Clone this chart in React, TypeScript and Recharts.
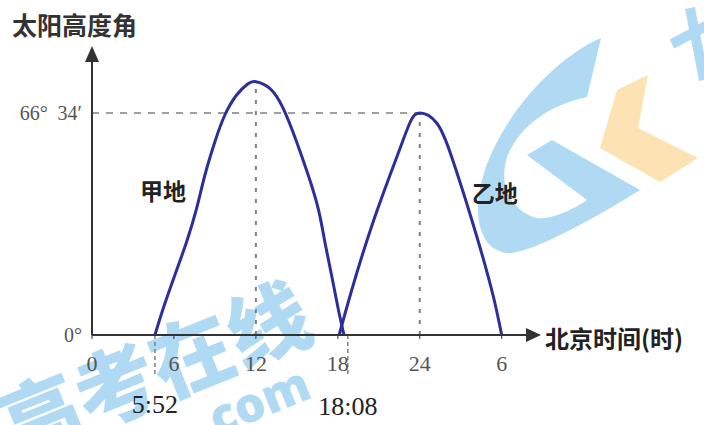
import { LineChart, Line, XAxis, YAxis, ReferenceLine, ReferenceDot } from "recharts";

// x: hour positions as drawn on the (schematic) time axis, y: solar altitude in degrees
const hourTicks = [0, 6, 12, 18, 24, 30];
const hourLabels = ["0", "6", "12", "18", "24", "6"];
const angleTicks = [0, 66.57];
const angleLabels = ["0°", "66°\u00a0\u00a034′"];

const jiaCurve = [
  { h: 4.61, deg: 0 },
  { h: 5.22, deg: 8 },
  { h: 6.07, deg: 18 },
  { h: 6.93, deg: 28 },
  { h: 7.66, deg: 38 },
  { h: 8.27, deg: 48 },
  { h: 9.0, deg: 58 },
  { h: 9.73, deg: 66 },
  { h: 10.59, deg: 72 },
  { h: 11.4, deg: 75.3 },
  { h: 12, deg: 76 },
  { h: 13.02, deg: 74 },
  { h: 14.0, deg: 68 },
  { h: 14.98, deg: 58 },
  { h: 15.83, deg: 48 },
  { h: 16.56, deg: 38 },
  { h: 17.05, deg: 28 },
  { h: 17.54, deg: 18 },
  { h: 18.02, deg: 8 },
  { h: 18.45, deg: 0 },
];

const yiCurve = [
  { h: 18.1, deg: 0 },
  { h: 19.02, deg: 13.5 },
  { h: 20.56, deg: 33.6 },
  { h: 22.32, deg: 53.4 },
  { h: 23.27, deg: 63.6 },
  { h: 24, deg: 66.57 },
  { h: 25.24, deg: 63.6 },
  { h: 26.34, deg: 53.4 },
  { h: 27.88, deg: 33.6 },
  { h: 29.27, deg: 13.5 },
  { h: 30, deg: 0 },
];

const jiaPeak = { h: 12, deg: 76 };
const yiPeak = { h: 24, deg: 66.57 };
const sunrise = { h: 4.61, label: "5:52" };
const sunset = { h: 18.73, label: "18:08" };

const AXIS = "#333";
const CURVE = "#2d2d9b";
const DASH = "#808080";
const SERIF = "'Liberation Serif', 'Times New Roman', serif";
const CJK = "'Noto Sans CJK SC', 'Noto Sans', sans-serif";
const WM_BLUE = "#b0daf3";

const textShape = (txt: string, size: number, fam: string, color: string, weight = 400) =>
  (p: any) => (
    <text
      x={p.cx}
      y={p.cy}
      textAnchor="middle"
      dominantBaseline="central"
      fontSize={size}
      fontFamily={fam}
      fontWeight={weight}
      fill={color}
    >
      {txt}
    </text>
  );

export default function App() {
  return (
    <div style={{ position: "absolute", left: 0, top: 0, width: 704, height: 425, background: "#fff", overflow: "hidden" }}>
      {/* watermark + axis titles */}
      <svg width={704} height={425} style={{ position: "absolute", left: 0, top: 0 }}>
        <path
          d="M601,38 C560,55 505,110 485,170 C470,215 480,250 507,253 C530,255 600,215 640,190 L552,140 L527,155 L587,200 C570,212 545,222 533,217 C505,205 500,180 507,157 C520,125 550,105 587,97 Z"
          fill={WM_BLUE}
        />
        <polygon points="648,75 617,90 600,148 660,182 698,158 638,128" fill="#fde3b3" />
        <line x1={672} y1={44} x2={706} y2={26} stroke={WM_BLUE} strokeWidth={10} />
        <line x1={690} y1={8} x2={704} y2={80} stroke={WM_BLUE} strokeWidth={10} />
        <text
          x={152}
          y={366}
          transform="rotate(-22 152 366)"
          textAnchor="middle"
          dominantBaseline="central"
          fontSize={82}
          fontWeight={900}
          fontFamily={CJK}
          fill={WM_BLUE}
        >
          高考在线
        </text>
        <text
          x={252}
          y={402}
          transform="rotate(-22 252 402)"
          textAnchor="middle"
          dominantBaseline="central"
          fontSize={48}
          fontWeight={900}
          fontFamily="'Noto Sans', sans-serif"
          fill={WM_BLUE}
        >
          .com
        </text>
        <text x={12} y={24} dominantBaseline="central" fontSize={25} fontWeight={700} fontFamily={CJK} fill="#333">
          太阳高度角
        </text>
        <text x={545} y={337} dominantBaseline="central" fontSize={24} fontWeight={700} fontFamily={CJK} fill="#222">
          北京时间(时)
        </text>
      </svg>

      <div style={{ position: "absolute", left: 0, top: 0 }}>
        <LineChart width={704} height={425} margin={{ top: 55, right: 175, bottom: 50, left: 32 }}>
          <XAxis
            type="number"
            dataKey="h"
            domain={[0, 32]}
            ticks={hourTicks}
            tickFormatter={(v: number) => hourLabels[hourTicks.indexOf(v)]}
            height={40}
            axisLine={{ stroke: AXIS, strokeWidth: 2 }}
            tickLine={{ stroke: AXIS }}
            tickSize={4}
            tickMargin={16}
            tick={{ fontSize: 22, fontFamily: SERIF, fill: "#555" }}
          />
          <YAxis
            type="number"
            domain={[0, 84]}
            ticks={angleTicks}
            tickFormatter={(v: number) => angleLabels[angleTicks.indexOf(v)]}
            width={60}
            axisLine={{ stroke: AXIS, strokeWidth: 2 }}
            tickLine={false}
            tickSize={0}
            tickMargin={10}
            tick={{ fontSize: 20, fontFamily: SERIF, fill: "#555" }}
          />

          <ReferenceLine
            segment={[{ x: 0, y: yiPeak.deg }, { x: yiPeak.h, y: yiPeak.deg }]}
            stroke={DASH}
            strokeWidth={1.5}
            strokeDasharray="7 7"
            ifOverflow="visible"
          />
          <ReferenceLine
            segment={[{ x: jiaPeak.h, y: 0 }, { x: jiaPeak.h, y: jiaPeak.deg }]}
            stroke={DASH}
            strokeWidth={2}
            strokeDasharray="4 7"
            ifOverflow="visible"
          />
          <ReferenceLine
            segment={[{ x: yiPeak.h, y: 0 }, { x: yiPeak.h, y: yiPeak.deg }]}
            stroke={DASH}
            strokeWidth={2}
            strokeDasharray="4 7"
            ifOverflow="visible"
          />
          <ReferenceLine
            segment={[{ x: sunrise.h, y: 0 }, { x: sunrise.h, y: -12 }]}
            stroke={DASH}
            strokeWidth={1.5}
            strokeDasharray="4 3"
            ifOverflow="visible"
          />
          <ReferenceLine
            segment={[{ x: sunset.h, y: 0 }, { x: sunset.h, y: -12 }]}
            stroke={DASH}
            strokeWidth={1.5}
            strokeDasharray="4 3"
            ifOverflow="visible"
          />

          <Line data={jiaCurve} dataKey="deg" type="natural" stroke={CURVE} strokeWidth={3} dot={false} isAnimationActive={false} />
          <Line data={yiCurve} dataKey="deg" type="natural" stroke={CURVE} strokeWidth={3} dot={false} isAnimationActive={false} />

          {/* axis arrowheads */}
          <ReferenceDot
            x={0}
            y={84}
            r={0}
            ifOverflow="visible"
            shape={(p: any) => <path d={`M${p.cx},${p.cy - 9} L${p.cx - 7},${p.cy + 7} L${p.cx + 7},${p.cy + 7} Z`} fill={AXIS} />}
          />
          <ReferenceDot
            x={32}
            y={0}
            r={0}
            ifOverflow="visible"
            shape={(p: any) => <path d={`M${p.cx + 12},${p.cy} L${p.cx - 3},${p.cy - 7} L${p.cx - 3},${p.cy + 7} Z`} fill={AXIS} />}
          />

          <ReferenceDot x={5.2} y={43.5} r={0} ifOverflow="visible" shape={textShape("甲地", 23, CJK, "#222", 700)} />
          <ReferenceDot x={29.5} y={43} r={0} ifOverflow="visible" shape={textShape("乙地", 23, CJK, "#222", 700)} />
          <ReferenceDot x={sunrise.h} y={-20.7} r={0} ifOverflow="visible" shape={textShape(sunrise.label, 26, SERIF, "#222")} />
          <ReferenceDot x={sunset.h} y={-21.3} r={0} ifOverflow="visible" shape={textShape(sunset.label, 26, SERIF, "#222")} />
        </LineChart>
      </div>
    </div>
  );
}
